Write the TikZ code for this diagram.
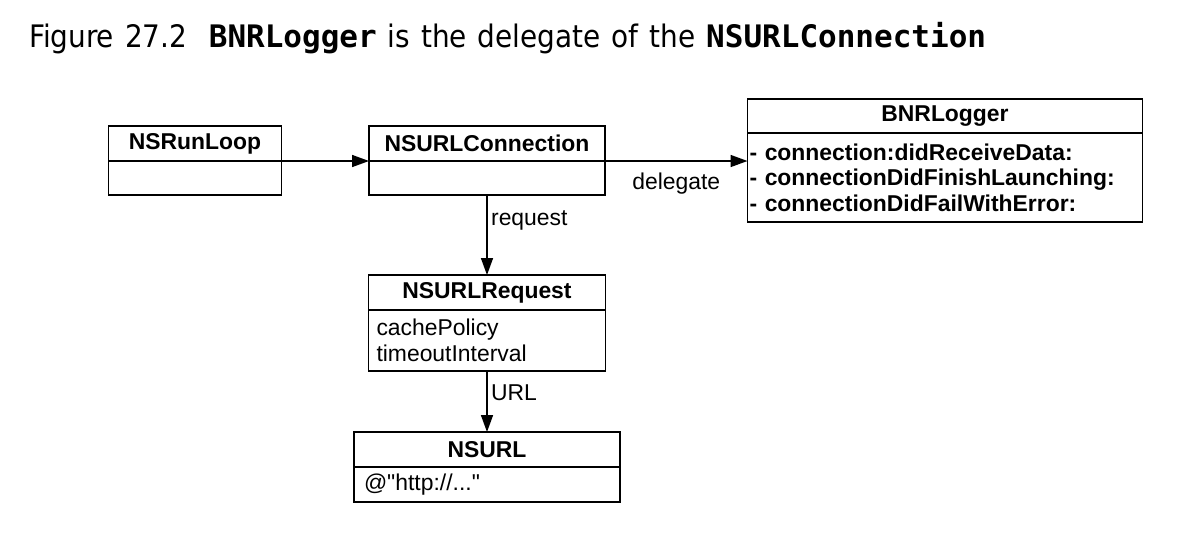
\documentclass[tikz,border=0pt]{standalone}
\usepackage{fontspec}
\setmainfont{Liberation Sans}[Ligatures=TeXOff]
\newfontfamily\captionfont{DejaVu Sans Condensed}
\newfontfamily\captioncode{DejaVu Sans Mono}
\usepackage{tikz}
\usetikzlibrary{positioning, arrows.meta}

\begin{document}
\begin{tikzpicture}[x=1pt, y=-1pt,
                classname/.style={draw, line width=1.6pt, outer sep=0pt, inner sep=0pt, font=\fontsize{22.9}{26}\selectfont\bfseries},
                classbody/.style={draw, line width=1.6pt, outer sep=0pt, inner xsep=8pt, inner ysep=0pt, align=left, anchor=north, font=\fontsize{22.9}{26}\selectfont},
                link/.style={line width=1.6pt, -{Triangle[length=17pt, width=12pt]}},
                linklabel/.style={font=\fontsize{22.9}{26}\selectfont}]
                \useasboundingbox (0,0) rectangle (1191,550);
                \node[anchor=base west, inner sep=0pt, font=\captionfont\fontsize{31}{34}\selectfont] (caption) at (29,47) {\spaceskip=11pt Figure 27.2\hspace{0.7em}{\captioncode\bfseries BNRLogger} is the delegate of the {\captioncode\bfseries NSURLConnection}};
                \node[classname, minimum width=173, minimum height=35] (runloop) at (195,143.5) {NSRunLoop};
                \node[classbody, below=0pt of runloop, text width=157, minimum height=34] (runloopbody) {};
                \node[classname, minimum width=236, minimum height=35] (conn) at (487,143.5) {NSURLConnection};
                \node[classbody, below=0pt of conn, text width=220, minimum height=34] (connbody) {};
                \node[classname, minimum width=395, minimum height=34] (logger) at (945,116) {BNRLogger};
                \node[classbody, below=0pt of logger, inner xsep=2pt, text width=391, minimum height=89, font=\fontsize{22.9}{25.5}\selectfont\bfseries] (loggerbody) {- connection:didReceiveData:\\- connectionDidFinishLaunching:\\- connectionDidFailWithError:};
                \node[classname, minimum width=237, minimum height=35] (request) at (487,292.5) {NSURLRequest};
                \node[classbody, below=0pt of request, text width=221, minimum height=61] (requestbody) {cachePolicy\\timeoutInterval};
                \node[classname, minimum width=266, minimum height=35] (url) at (487,449.5) {NSURL};
                \node[classbody, below=0pt of url, inner xsep=10pt, text width=246, minimum height=35] (urlbody) {@"http://..."};
                \draw[link] (runloop.south east) -- (conn.south west);
                \draw[link] (conn.south east) -- node[linklabel, below=8pt]{delegate} (conn.south east -| loggerbody.west);
                \draw[link] (connbody.south) -- node[linklabel, pos=0.32, right]{request} (request.north);
                \draw[link] (requestbody.south) -- node[linklabel, pos=0.36, right]{URL} (url.north);
            \end{tikzpicture}
\end{document}
